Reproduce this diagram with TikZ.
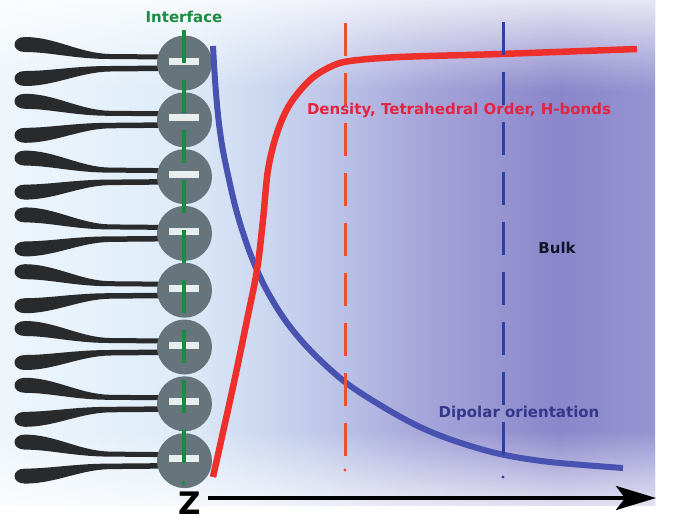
\documentclass[tikz,border=0pt]{standalone}
\usepackage{fontspec}
\setmainfont{DejaVu Sans}
\usetikzlibrary{arrows.meta,fadings}

% palette
\definecolor{bgA}{RGB}{238,246,252}
\definecolor{bgB}{RGB}{222,236,248}
\definecolor{bgC}{RGB}{196,206,236}
\definecolor{bgD}{RGB}{166,166,218}
\definecolor{bgE}{RGB}{138,134,202}
\definecolor{bgF}{RGB}{150,148,210}
\definecolor{tailc}{RGB}{40,42,44}
\definecolor{headc}{RGB}{102,117,123}
\definecolor{barc}{RGB}{232,238,238}
\definecolor{ifgreen}{RGB}{24,140,64}
\definecolor{curvered}{RGB}{238,48,44}
\definecolor{curveblue}{RGB}{72,82,176}
\definecolor{dashorange}{RGB}{236,80,50}
\definecolor{dashblue}{RGB}{45,65,165}
\definecolor{txtred}{RGB}{228,36,64}
\definecolor{txtblue}{RGB}{52,56,140}
\definecolor{txtdark}{RGB}{20,20,40}

% horizontal backdrop: pale blue at the membrane, purple in the bulk
\pgfdeclarehorizontalshading{bgshade}{100bp}{color(0bp)=(bgA); color(25bp)=(bgA);
  color(38.7bp)=(bgB); color(47.9bp)=(bgC); color(57.1bp)=(bgD);
  color(67.7bp)=(bgE); color(75bp)=(bgF); color(100bp)=(bgF)}

\tikzset{
  lbl/.style={font=\bfseries\fontsize{15pt}{18pt}\selectfont, inner sep=0pt},
  guide/.style={line width=3pt, dash pattern=on 33pt off 17pt},
  profile/.style={line width=6pt, smooth, tension=0.55},
}

\begin{document}
\begin{tikzpicture}[x=1pt,y=-1pt]
\useasboundingbox (0,0) rectangle (676,520);
\fill[white] (0,0) rectangle (676,520);

% backdrop with soft white fades at top and bottom
\begin{scope}
  \clip (0,0) rectangle (655,505);
  \shade[shading=bgshade] (0,0) rectangle (655,505);
  \fill[white, path fading=south] (0,-25) rectangle (655,90);
  \fill[white, path fading=north] (0,430) rectangle (655,532);
\end{scope}

% lipids: two tails and a head each
\foreach \yy in {63,119.8,176.6,233.4,290.2,347,403.8,460.6} {
  \begin{scope}[shift={(0,\yy)}]
    \fill[tailc] (165,-8.5) -- (110,-9) .. controls (80,-9.5) and (55,-26) .. (25,-26)
      .. controls (11,-26) and (11,-11) .. (25,-11)
      .. controls (50,-11) and (75,-4) .. (110,-4) -- (165,-3.5) -- cycle;
    \fill[tailc] (165,8) -- (110,8.5) .. controls (80,9) and (55,23) .. (25,23)
      .. controls (11,23) and (11,8) .. (25,8)
      .. controls (50,8) and (75,3) .. (110,3) -- (165,2.5) -- cycle;
    \fill[headc] (184.5,0) circle[radius=27.5];
    \fill[barc] (169,-5.5) rectangle (199,1.5);
  \end{scope}
}

% interface line
\coordinate (ifTop) at (183.5,30);
\coordinate (ifBot) at (183.5,463);
\draw[ifgreen, guide, line width=4pt] (ifTop) -- (ifBot);
\fill[ifgreen] (183.5,483) circle[radius=2];
\node[lbl, text=ifgreen] (interface) at (184,17) {Interface};

% dipolar orientation profile
\draw[curveblue, profile] plot coordinates {(213,46) (215,80) (218,115) (222,145)
  (228,175) (237,213) (250,253) (265,287) (285,320) (310,350) (345,382)
  (385,408) (420,427) (455,441) (500,454) (550,462) (623,468)};

% density profile
\draw[curvered, profile, line width=6.5pt] plot coordinates {(213,477) (233,387)
  (247,320) (257,270) (263,220) (268,170) (277,133) (290,104) (310,80)
  (330,67) (350,61) (400,57) (500,54) (637,49)};

% structural and orientational boundaries
\coordinate (rTop) at (345,23);
\coordinate (rBot) at (345,456);
\draw[dashorange, guide] (rTop) -- (rBot);
\fill[dashorange] (345,470) circle[radius=1.6];
\coordinate (bTop) at (503,22);
\coordinate (bBot) at (503,455);
\draw[dashblue, guide] (bTop) -- (bBot);
\fill[dashblue] (503,477) circle[radius=1.6];

% labels
\node[lbl, text=txtred] (density) at (459,110.5) {Density, Tetrahedral Order, H-bonds};
\node[lbl, text=txtdark] (bulk) at (557,248) {Bulk};
\node[lbl, text=txtblue] (dipolar) at (519,413) {Dipolar orientation};

% z axis
\node[font=\bfseries\fontsize{31pt}{33pt}\selectfont, inner sep=0pt, anchor=base] (zlab) at (190,514) {Z};
\coordinate (zStart) at (208,498);
\coordinate (zEnd) at (656,498);
\draw[line width=4pt, -{Stealth[length=40pt, width=24pt, inset=9pt]}] (zStart) -- (zEnd);
\end{tikzpicture}
\end{document}
